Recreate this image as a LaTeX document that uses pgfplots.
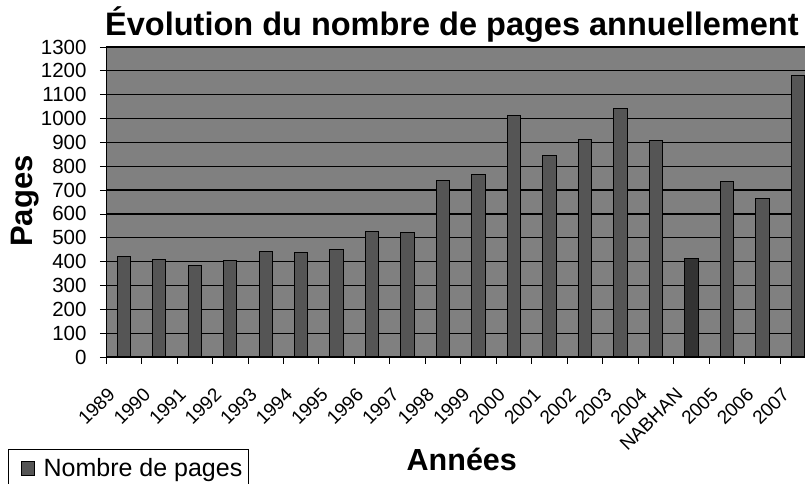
\documentclass[border=0pt]{standalone}
\usepackage{pgfplots}
\pgfplotsset{compat=1.18}
\usepackage{fontspec}
\setmainfont{Liberation Sans}
\definecolor{bgray}{HTML}{808080}
\definecolor{bardark}{HTML}{555555}
\definecolor{bardarker}{HTML}{333333}
\begin{document}
\begin{tikzpicture}[x=1pt,y=1pt]
\useasboundingbox (0,0) rectangle (805,484);
\begin{axis}[
  at={(106pt,127pt)}, anchor=south west,
  scale only axis, width=699pt, height=310pt,
  xmin=-0.5, xmax=19.2, ymin=0, ymax=1300,
  axis background/.style={fill=bgray},
  axis line style={black, line width=1pt},
  ytick={0,100,...,1300},
  ymajorgrids, major grid style={black, line width=1.3pt},
  xtick={0,...,19},
  xticklabels={1989,1990,1991,1992,1993,1994,1995,1996,1997,1998,1999,2000,2001,2002,2003,2004,NABHAN,2005,2006,2007},
  minor xtick={-0.5,0.5,...,19.5},
  tick align=outside, tick pos=left,
  major tick length=6pt, minor tick length=7pt,
  major x tick style={draw=none},
  every tick/.style={black, line width=0.8pt},
  minor tick style={black, line width=0.8pt},
  /pgf/number format/assume math mode=true,
  /pgf/number format/1000 sep={},
  yticklabel style={font=\fontsize{20.5}{20.5}\selectfont, anchor=east, xshift=-10pt},
  xticklabel style={font=\fontsize{19}{19}\selectfont, xshift=-17pt, yshift=-22pt, rotate=45, anchor=north east, inner sep=1pt},
  ylabel={\bfseries Pages},
  ylabel style={font=\fontsize{31}{31}\selectfont, at={(rel axis cs:-0.116,0.503)}, anchor=center},
  xlabel={\bfseries Années},
  xlabel style={font=\fontsize{30.5}{30.5}\selectfont, at={(rel axis cs:0.509,-0.332)}, anchor=center},
  legend style={at={(rel axis cs:-0.1402,-0.2968)}, anchor=north west, draw=black, line width=1.2pt,
    font=\fontsize{25}{25}\selectfont, inner xsep=4pt, inner ysep=7pt, fill=white},
  legend image code/.code={\path (-8pt,0pt) (20pt,0pt); \draw[fill=bardark, draw=black, line width=0.6pt] (0pt,-7pt) rectangle (13pt,7pt);},
  clip=false,
]
\addplot[ybar, bar width=13.3pt, bar shift=0pt, fill=bardark, draw=black, line width=1pt] coordinates {
(0,420) (1,409) (2,385) (3,403) (4,443) (5,437) (6,452) (7,527) (8,521) (9,742)
(10,766) (11,1013) (12,845) (13,912) (14,1041) (15,906) (17,738) (18,665) (19,1181)
};
\addlegendentry{Nombre de pages}
\addplot[ybar, bar width=13.3pt, bar shift=0pt, fill=bardarker, draw=black, line width=1pt, forget plot] coordinates {
(16,413)
};
\end{axis}
\node[anchor=base west, inner sep=0pt, font=\fontsize{32.5}{32.5}\selectfont\bfseries] at (105,448) {Évolution du nombre de pages annuellement};
\end{tikzpicture}
\end{document}
